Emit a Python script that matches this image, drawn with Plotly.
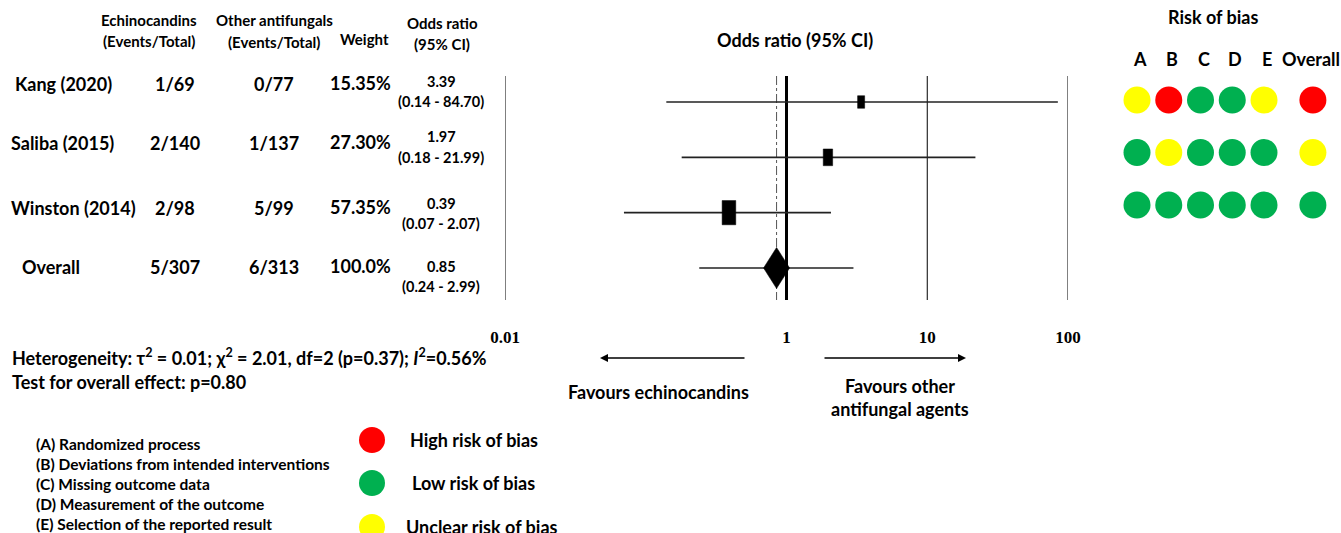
import math
import plotly.graph_objects as go

# ---------------- data ----------------
studies = ["Kang (2020)", "Saliba (2015)", "Winston (2014)"]
echino_events = ["1/69", "2/140", "2/98"]
other_events = ["0/77", "1/137", "5/99"]
weights = [15.35, 27.30, 57.35]
odds_ratio = [3.39, 1.97, 0.39]
ci_low = [0.14, 0.18, 0.07]
ci_high = [84.70, 21.99, 2.07]

overall_label = "Overall"
overall_echino = "5/307"
overall_other = "6/313"
overall_weight = 100.0
overall_or = 0.85
overall_low = 0.24
overall_high = 2.99

tick_values = [0.01, 1, 10, 100]
tick_labels = ["0.01", "1", "10", "100"]

rob_domains = ["A", "B", "C", "D", "E", "Overall"]
rob_kang = ["U", "H", "L", "L", "U", "H"]
rob_saliba = ["L", "U", "L", "L", "L", "U"]
rob_winston = ["L", "L", "L", "L", "L", "L"]
rob_rows = [rob_kang, rob_saliba, rob_winston]

domain_desc = ["(A) Randomized process", "(B) Deviations from intended interventions",
               "(C) Missing outcome data", "(D) Measurement of the outcome",
               "(E) Selection of the reported result"]
rob_legend = [("H", "High risk of bias"), ("L", "Low risk of bias"), ("U", "Unclear risk of bias")]

# ---------------- styles / layout ----------------
W, H = 1341, 533
COL = {"H": "#FF0000", "L": "#00B050", "U": "#FFFF00"}
FONT = "Lato"
SERIF = "Liberation Serif"

X0PX, X1PX = 505, 1068           # pixel span of log axis 0.01..100
PX_PER_DEC = (X1PX - X0PX) / 4.0
ROW0PX, ROWSTEP = 102, 55.33      # forest row geometry
y_top = -ROW0PX / ROWSTEP
y_bot = y_top + H / ROWSTEP

def px_to_y(p):
    return (p - ROW0PX) / ROWSTEP

def xpx(p):
    return p / W

def ypx(p):
    return 1 - p / H

fig = go.Figure()

# vertical reference lines
line_top, line_bot = px_to_y(76), px_to_y(300)
for v in [0.01, 10, 100]:
    fig.add_trace(go.Scatter(x=[v, v], y=[line_top, line_bot], mode="lines",
                             line=dict(color="black", width=1), hoverinfo="skip", showlegend=False))
fig.add_trace(go.Scatter(x=[overall_or, overall_or], y=[line_top, line_bot], mode="lines",
                         line=dict(color="#555555", width=1, dash="dashdot"), hoverinfo="skip", showlegend=False))
fig.add_trace(go.Scatter(x=[1, 1], y=[line_top, line_bot], mode="lines",
                         line=dict(color="black", width=3), hoverinfo="skip", showlegend=False))

# CI lines
all_low = ci_low + [overall_low]
all_high = ci_high + [overall_high]
cx, cy = [], []
for i, (lo, hi) in enumerate(zip(all_low, all_high)):
    cx += [lo, hi, None]
    cy += [i, i, None]
fig.add_trace(go.Scatter(x=cx, y=cy, mode="lines", line=dict(color="#222222", width=1.6),
                         hoverinfo="skip", showlegend=False))

# study boxes (size from weight)
for i, (o, w) in enumerate(zip(odds_ratio, weights)):
    hw = 1.8 * math.sqrt(w) / 2 / PX_PER_DEC
    hh = 3.2 * math.sqrt(w) / 2 / ROWSTEP
    xl, xr = o * 10 ** (-hw), o * 10 ** hw
    fig.add_trace(go.Scatter(x=[xl, xr, xr, xl, xl], y=[i - hh, i - hh, i + hh, i + hh, i - hh],
                             mode="lines", fill="toself", fillcolor="black",
                             line=dict(color="black", width=0.5), hoverinfo="skip", showlegend=False))

# overall diamond
dh = 13 / PX_PER_DEC
dv = 20.5 / ROWSTEP
k = len(studies)
fig.add_trace(go.Scatter(x=[overall_or * 10 ** (-dh), overall_or, overall_or * 10 ** dh, overall_or, overall_or * 10 ** (-dh)],
                         y=[k, k - dv, k, k + dv, k], mode="lines", fill="toself", fillcolor="black",
                         line=dict(color="black", width=0.5), hoverinfo="skip", showlegend=False))

# risk of bias circles
rob_xpos = [0, 1, 2, 3, 4, 5.54]
for r, row in enumerate(rob_rows):
    fig.add_trace(go.Scatter(x=rob_xpos, y=[r] * len(row), mode="markers", xaxis="x2", yaxis="y2",
                             marker=dict(size=27, color=[COL[c] for c in row], line=dict(width=0)),
                             hoverinfo="skip", showlegend=False))

# ---------------- annotations ----------------
ann = []

def T(text, x, y, size, xanchor="center", family=FONT, bold=True):
    t = f"<b>{text}</b>" if bold else text
    ann.append(dict(text=t, x=xpx(x), y=ypx(y), xref="paper", yref="paper", xanchor=xanchor,
                    align=xanchor if xanchor != "center" else "center",
                    yanchor="middle", showarrow=False, font=dict(family=family, size=size, color="black")))

# headers
T("Echinocandins", 149, 20, 15)
T("(Events/Total)", 149, 41, 15)
T("Other antifungals", 274, 20, 15)
T("(Events/Total)", 274, 42, 15)
T("Weight", 364, 39, 15)
T("Odds ratio", 442, 23, 15)
T("(95% CI)", 442, 44, 15)
T("Odds ratio (95% CI)", 795, 40, 18)
T("Risk of bias", 1213, 17, 18)

# rows
names = studies + [overall_label]
ech = echino_events + [overall_echino]
oth = other_events + [overall_other]
wts = [f"{w:.2f}%" for w in weights] + [f"{overall_weight:.1f}%"]
ors = odds_ratio + [overall_or]
text_y = [84, 143, 208, 267]
name_x = [13, 9, 9, 20]
or_y = [81, 137, 203, 266]
for i in range(4):
    T(names[i], name_x[i], text_y[i], 18, xanchor="left")
    T(ech[i], 175, text_y[i], 18)
    T(oth[i], 274, text_y[i], 18)
    T(wts[i], 360, text_y[i] - 1, 18)
    T(f"{ors[i]:.2f}", 441, or_y[i], 14.5)
    T(f"({all_low[i]:.2f} - {all_high[i]:.2f})", 441, or_y[i] + 20, 14.5)

# rob headers
for j, d in enumerate(rob_domains):
    ann.append(dict(text=f"<b>{d}</b>", x=rob_xpos[j] + (0.1 if j < 5 else -0.05), y=ypx(59), xref="x2", yref="paper",
                    xanchor="center", yanchor="middle", showarrow=False,
                    font=dict(family=FONT, size=18, color="black")))

# heterogeneity
T("Heterogeneity: τ<sup>2</sup> = 0.01; χ<sup>2</sup> = 2.01, df=2 (p=0.37); <i>I</i><sup>2</sup>=0.56%", 10, 357, 18, xanchor="left")
T("Test for overall effect: p=0.80", 10, 382, 18, xanchor="left")

# favours
T("Favours echinocandins", 658, 392, 18)
T("Favours other", 900, 386, 18)
T("antifungal agents", 900, 409, 18)

# arrows
ann.append(dict(text="", x=xpx(600), y=ypx(358), xref="paper", yref="paper", ax=146, ay=0,
                showarrow=True, arrowhead=2, arrowsize=1, arrowwidth=1.6, arrowcolor="black"))
ann.append(dict(text="", x=xpx(966), y=ypx(358), xref="paper", yref="paper", ax=-143, ay=0,
                showarrow=True, arrowhead=2, arrowsize=1, arrowwidth=1.6, arrowcolor="black"))

# domain descriptions
for i, d in enumerate(domain_desc):
    T(d, 34, 444 + i * 20, 15.5, xanchor="left")

# rob legend
shapes = []
leg_y = [440, 483, 527]
leg_tx = [408, 410, 404]
for (c, lab), yy, tx in zip(rob_legend, leg_y, leg_tx):
    shapes.append(dict(type="circle", xref="paper", yref="paper", xsizemode="pixel", ysizemode="pixel",
                       xanchor=xpx(372), yanchor=ypx(yy), x0=-13, x1=13, y0=-13, y1=13,
                       fillcolor=COL[c], line=dict(width=0)))
    T(lab, tx, yy, 18, xanchor="left")

fig.update_layout(
    width=W, height=H, margin=dict(l=0, r=0, t=0, b=0, pad=0, autoexpand=False),
    paper_bgcolor="white", plot_bgcolor="white",
    xaxis=dict(type="log", range=[-2, 2], domain=[X0PX / W, X1PX / W], showgrid=False, zeroline=False,
               showline=False, ticks="", tickvals=tick_values, ticktext=[f"<b>{t}</b>" for t in tick_labels],
               tickfont=dict(family=SERIF, size=17, color="black"), anchor="free", position=ypx(325),
               automargin=False),
    yaxis=dict(range=[y_bot, y_top], domain=[0, 1], visible=False, automargin=False),
    xaxis2=dict(range=[-37 / 31.75, 204 / 31.75], domain=[1100 / W, 1.0], visible=False, anchor="y2"),
    yaxis2=dict(range=[8.248, -1.905], domain=[0, 1], visible=False, anchor="x2"),
    annotations=ann, shapes=shapes, showlegend=False,
)

fig.write_html("out.html", config={"displayModeBar": False},
               post_script="document.body.style.margin='0';document.body.style.overflow='hidden';")
